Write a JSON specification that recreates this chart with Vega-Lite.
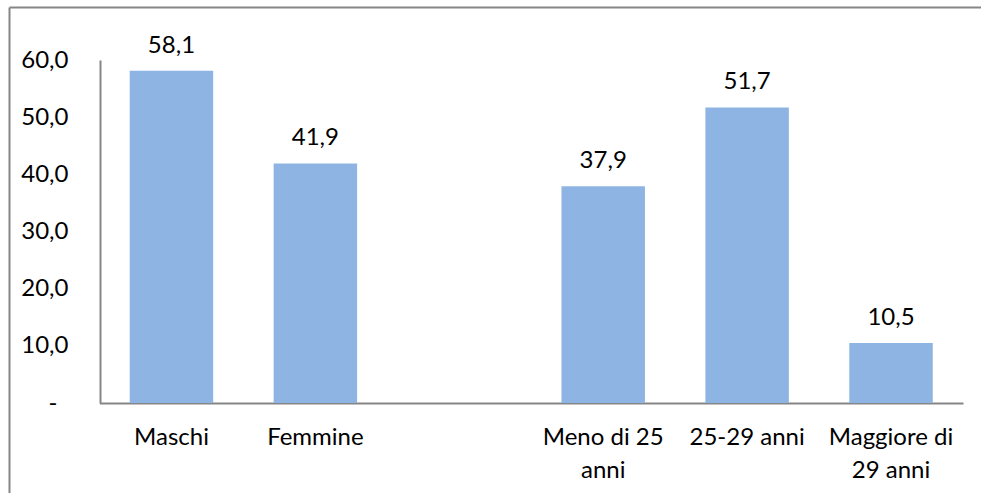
{
  "$schema": "https://vega.github.io/schema/vega-lite/v6.json",
  "width": 971.5,
  "height": 485.5,
  "autosize": {"type": "none"},
  "padding": {"left": 9.5, "top": 7.5, "right": 0, "bottom": 0},
  "background": "white",
  "config": {
    "locale": {"number": {"decimal": ",", "thousands": ".", "grouping": [3], "currency": ["", " €"]}},
    "view": {"stroke": null},
    "font": "Lato"
  },
  "datasets": {
    "valori": [
      {"categoria": "Maschi", "valore": 58.1},
      {"categoria": "Femmine", "valore": 41.9},
      {"categoria": "Meno di 25 anni", "valore": 37.9},
      {"categoria": "25-29 anni", "valore": 51.7},
      {"categoria": "Maggiore di 29 anni", "valore": 10.5}
    ],
    "cornice": [
      {"sinistra": 0, "alto": 69.19}
    ]
  },
  "resolve": {"scale": {"x": "independent"}},
  "layer": [
    {
      "data": {"name": "valori"},
      "encoding": {
        "x": {
          "field": "categoria",
          "type": "nominal",
          "sort": null,
          "scale": {
            "domain": ["Maschi", "Femmine", "", "Meno di 25 anni", "25-29 anni", "Maggiore di 29 anni"],
            "range": [90, 953.5],
            "paddingInner": 0.42,
            "paddingOuter": 0.21
          },
          "axis": {
            "title": null,
            "orient": "bottom",
            "offset": -90,
            "domainColor": "#868686",
            "domainWidth": 2,
            "ticks": false,
            "tickSize": 0,
            "labelPadding": 22,
            "labelFontSize": 24,
            "labelColor": "#000000",
            "labelAngle": 0,
            "labelLineHeight": 33,
            "labelOverlap": false,
            "labelLimit": 0,
            "labelExpr": "datum.value === 'Meno di 25 anni' ? ['Meno di 25', 'anni'] : datum.value === 'Maggiore di 29 anni' ? ['Maggiore di', '29 anni'] : datum.label"
          }
        },
        "y": {
          "field": "valore",
          "type": "quantitative",
          "scale": {"domain": [0, 60], "range": [395.5, 52.5], "nice": false, "zero": false},
          "axis": {
            "title": null,
            "orient": "left",
            "offset": -90.5,
            "values": [0, 10, 20, 30, 40, 50, 60],
            "format": ".1f",
            "labelExpr": "datum.value === 0 ? '-' : datum.label",
            "domainColor": "#868686",
            "domainWidth": 2,
            "ticks": false,
            "tickSize": 0,
            "grid": false,
            "labelPadding": {"condition": {"test": "datum.value === 0", "value": 43}, "value": 32},
            "labelFontSize": 24,
            "labelColor": "#000000"
          }
        }
      },
      "layer": [
        {"mark": {"type": "bar", "color": "#8EB4E3"}},
        {
          "mark": {"type": "text", "dy": -18, "baseline": "alphabetic", "fontSize": 24, "color": "#000000"},
          "encoding": {"text": {"field": "valore", "type": "quantitative", "format": ".1f"}}
        }
      ]
    },
    {
      "data": {"name": "cornice"},
      "mark": {"type": "rule", "color": "#868686", "strokeWidth": 2},
      "encoding": {
        "y": {"field": "alto", "type": "quantitative"}
      }
    },
    {
      "data": {"name": "cornice"},
      "mark": {"type": "rule", "color": "#868686", "strokeWidth": 2},
      "encoding": {
        "x": {"field": "sinistra", "type": "quantitative", "scale": {"domain": [0, 1]}, "axis": null}
      }
    }
  ]
}
